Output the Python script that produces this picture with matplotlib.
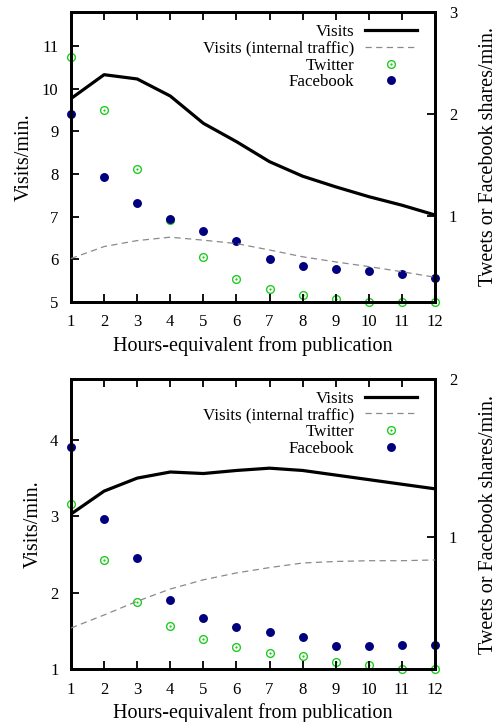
import matplotlib
matplotlib.use("Agg")
import matplotlib.pyplot as plt
from matplotlib.legend_handler import HandlerTuple

plt.rcParams['font.family'] = ['Liberation Serif', 'DejaVu Serif']

hours = list(range(1, 13))

# Top panel
top_visits = [9.77, 10.33, 10.23, 9.83, 9.19, 8.76, 8.29, 7.95, 7.70, 7.47, 7.27, 7.04]
top_internal = [6.02, 6.30, 6.44, 6.52, 6.45, 6.37, 6.22, 6.06, 5.94, 5.83, 5.71, 5.58]
top_twitter = [2.56, 2.04, 1.46, 0.955, 0.59, 0.38, 0.28, 0.22, 0.18, 0.15, 0.15, 0.15]
top_facebook = [2.0, 1.375, 1.125, 0.965, 0.846, 0.75, 0.568, 0.50, 0.47, 0.456, 0.43, 0.39]

# Bottom panel
bot_visits = [3.03, 3.33, 3.50, 3.58, 3.56, 3.60, 3.63, 3.60, 3.54, 3.48, 3.42, 3.36]
bot_internal = [1.54, 1.71, 1.89, 2.05, 2.17, 2.26, 2.33, 2.39, 2.41, 2.42, 2.42, 2.43]
bot_twitter = [1.21, 0.857, 0.59, 0.44, 0.356, 0.305, 0.27, 0.248, 0.214, 0.19, 0.167, 0.165]
bot_facebook = [1.567, 1.114, 0.87, 0.60, 0.49, 0.43, 0.40, 0.368, 0.313, 0.309, 0.32, 0.32]

top_left_ticks = [5, 6, 7, 8, 9, 10, 11]
top_right_ticks = [1, 2, 3]
bot_left_ticks = [1, 2, 3, 4]
bot_right_ticks = [1, 2]

xlabel = "Hours-equivalent from publication"
ylabel = "Visits/min."
y2label = "Tweets or Facebook shares/min."
labels = ["Visits", "Visits (internal traffic)", "Twitter", "Facebook"]

GREEN = '#1fcc1f'
NAVY = '#00007f'
W, H = 500, 722
fig = plt.figure(figsize=(W / 100, H / 100), dpi=100)

FS_TICK = 12
FS_LAB = 14.5
FS_LEG = 12.2


def panel(rect, visits, internal, twitter, facebook, ylim, y2lim, lticks, rticks):
    ax = fig.add_axes(rect)
    ax2 = ax.twinx()
    ax.set_zorder(ax2.get_zorder() + 1)
    ax.patch.set_visible(False)
    l1, = ax.plot(hours, visits, color='black', lw=2.3, solid_joinstyle='round', zorder=3)
    l2, = ax.plot(hours, internal, color='#8a8a8a', lw=0.9, dashes=(5, 3.5), zorder=3)
    t1, = ax2.plot(hours, twitter, ls='none', marker='o', ms=5.6, mfc='none', mec=GREEN, mew=1.0, clip_on=False)
    t2, = ax2.plot(hours, twitter, ls='none', marker='o', ms=1.2, mfc=GREEN, mec=GREEN, mew=0.3, clip_on=False)
    f1, = ax2.plot(hours, facebook, ls='none', marker='o', ms=5.4, mfc=NAVY, mec=NAVY, clip_on=False)
    ax.set_xlim(1, 12)
    ax.set_ylim(*ylim)
    ax2.set_ylim(*y2lim)
    ax.set_xticks(hours)
    ax.set_yticks(lticks)
    ax2.set_yticks(rticks)
    for a in (ax, ax2):
        for s in a.spines.values():
            s.set_linewidth(2.0)
    ax.tick_params(axis='x', direction='in', length=6, width=1.3, top=True, labelsize=FS_TICK, pad=9)
    ax.tick_params(axis='y', direction='in', length=6, width=1.3, right=False, labelsize=FS_TICK, pad=9)
    ax2.tick_params(axis='y', direction='in', length=6, width=1.3, labelsize=FS_TICK, pad=10)
    ax.set_xlabel(xlabel, fontsize=FS_LAB, labelpad=4)
    ax.set_ylabel(ylabel, fontsize=FS_LAB, labelpad=5.5)
    ax2.set_ylabel(y2label, fontsize=FS_LAB, labelpad=16)
    ax.legend([l1, l2, (t1, t2), f1], labels,
              handler_map={tuple: HandlerTuple(ndivide=1)},
              loc='upper right', bbox_to_anchor=(0.984, 1.0),
              markerfirst=False, frameon=False, fontsize=FS_LEG,
              handlelength=3.1, handletextpad=0.6, labelspacing=0.05,
              borderaxespad=0.3)
    return ax, ax2


panel([71 / W, 420 / H, 364 / W, 290 / H], top_visits, top_internal, top_twitter,
      top_facebook, (5, 11.8), (0.15, 3), top_left_ticks, top_right_ticks)
panel([71 / W, 52.7 / H, 364 / W, 290.6 / H], bot_visits, bot_internal, bot_twitter,
      bot_facebook, (1, 4.8), (0.165, 2), bot_left_ticks, bot_right_ticks)

fig.savefig('out.png', dpi=100)
